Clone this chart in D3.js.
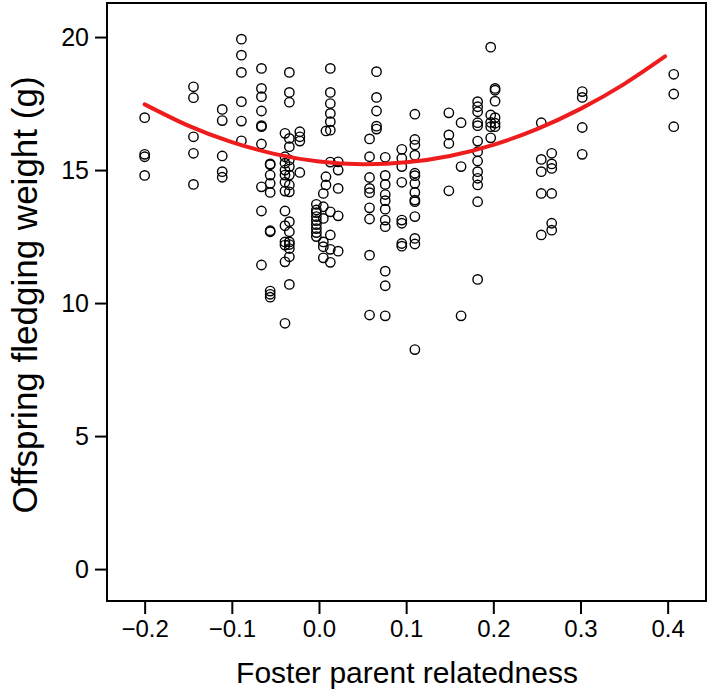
<!DOCTYPE html>
<html>
<head>
<meta charset="utf-8">
<script src="https://cdn.jsdelivr.net/npm/d3@7"></script>
<style>
  html, body { margin: 0; padding: 0; background: #fff; }
  svg { display: block; }
  text { font-family: "Liberation Sans", Arial, Helvetica, sans-serif; fill: #000; }
</style>
</head>
<body>
<svg id="chart" width="709" height="700"></svg>
<script>
// ---- data ----
const xTicks = [-0.2, -0.1, 0.0, 0.1, 0.2, 0.3, 0.4];
const xTickLabels = ["\u22120.2", "\u22120.1", "0.0", "0.1", "0.2", "0.3", "0.4"];
const yTicks = [0, 5, 10, 15, 20];
const yTickLabels = ["0", "5", "10", "15", "20"];
const xTitle = "Foster parent relatedness";
const yTitle = "Offspring fledging weight (g)";

// relatedness value of each column of points
const columnRelatedness = [-0.200, -0.144, -0.111, -0.089, -0.066, -0.056, -0.039, -0.034, -0.022,
  -0.003, 0.005, 0.008, 0.013, 0.022, 0.058, 0.066, 0.076, 0.095, 0.110, 0.149, 0.163, 0.182,
  0.197, 0.202, 0.255, 0.267, 0.302, 0.407];
// fledging weights (g) in each column
const columnWeights = [
  [16.97, 15.59, 15.50, 14.80],
  [18.13, 17.72, 16.25, 15.63, 14.46],
  [17.28, 16.86, 15.53, 14.94, 14.73],
  [19.92, 19.32, 18.67, 17.57, 16.84, 16.10],
  [18.82, 18.07, 17.76, 17.22, 16.67, 16.63, 15.98, 14.37, 13.46, 11.43],
  [15.23, 15.20, 14.81, 14.50, 14.16, 12.72, 12.68, 10.45, 10.33, 10.22],
  [16.38, 15.50, 15.26, 15.00, 14.81, 14.54, 14.21, 13.46, 12.91, 12.30, 12.18, 11.55, 9.24],
  [18.67, 17.92, 17.55, 16.19, 15.88, 15.38, 15.13, 14.81, 14.44, 14.18, 13.06, 12.68, 12.30, 12.20, 12.05, 11.74, 10.70],
  [16.44, 16.25, 16.09, 14.91],
  [13.71, 13.50, 13.40, 13.25, 13.10, 12.95, 12.80, 12.65, 12.50],
  [14.12, 13.62, 13.18, 12.30, 12.12, 11.70],
  [16.47, 14.75, 14.44],
  [18.82, 17.92, 17.50, 17.13, 16.82, 16.50, 15.30, 13.43, 12.56, 12.02, 11.53],
  [15.31, 15.00, 14.31, 13.28, 11.95],
  [16.17, 15.50, 14.72, 14.31, 14.15, 13.58, 13.16, 11.80, 9.55],
  [18.70, 17.73, 17.22, 16.65, 16.54],
  [15.48, 14.80, 14.46, 14.08, 13.85, 13.53, 13.12, 12.87, 11.20, 10.65, 9.52],
  [15.78, 15.44, 15.13, 14.54, 13.12, 13.00, 12.24, 12.14],
  [17.10, 16.15, 15.94, 15.56, 14.88, 14.79, 14.50, 14.16, 13.87, 13.81, 13.25, 12.43, 12.22, 8.25],
  [17.15, 16.32, 16.00, 14.22],
  [16.78, 15.13, 9.52],
  [17.57, 17.38, 17.19, 16.78, 16.67, 16.09, 15.69, 15.34, 14.94, 14.69, 14.44, 13.81, 10.89],
  [19.62, 17.07, 16.79, 16.63, 16.21],
  [18.07, 18.00, 17.59, 16.97, 16.76, 16.63],
  [16.78, 15.40, 14.94, 14.12, 12.56],
  [15.63, 15.23, 15.06, 14.12, 13.00, 12.74],
  [17.95, 17.73, 16.60, 15.59],
  [18.60, 17.86, 16.63]
];

// fitted curve (red), read at regular relatedness values
const fitRelatedness = [-0.2, -0.15, -0.1, -0.05, 0.0, 0.05, 0.1, 0.15, 0.2, 0.25, 0.3, 0.35, 0.397];
const fitWeight = [17.47, 16.67, 16.05, 15.60, 15.32, 15.22, 15.29, 15.53, 15.95, 16.54, 17.30, 18.23, 19.27];

// ---- layout ----
const box = { left: 107, right: 706, top: 3, bottom: 601 };
const xDomain = [-0.2432, 0.4440];
const yDomain = [-1.20, 21.28];

const svg = d3.select("#chart");
const x = d3.scaleLinear().domain(xDomain).range([box.left, box.right]);
const y = d3.scaleLinear().domain(yDomain).range([box.bottom, box.top]);

const points = [];
columnRelatedness.forEach((r, i) => columnWeights[i].forEach(w => points.push({ r, w })));

// axes
const xAxis = d3.axisBottom(x).tickValues(xTicks).tickSize(13).tickPadding(6)
  .tickFormat((d, i) => xTickLabels[i]);
const gx = svg.append("g").attr("transform", `translate(0,${box.bottom})`).call(xAxis);
gx.select(".domain").remove();
gx.selectAll(".tick line").attr("stroke", "#000").attr("stroke-width", 2);
gx.selectAll(".tick text").style("font-size", "24px").attr("fill", "#000");

const yAxis = d3.axisLeft(y).tickValues(yTicks).tickSize(12).tickPadding(6)
  .tickFormat((d, i) => yTickLabels[i]);
const gy = svg.append("g").attr("transform", `translate(${box.left},0)`).call(yAxis);
gy.select(".domain").remove();
gy.selectAll(".tick line").attr("stroke", "#000").attr("stroke-width", 2);
gy.selectAll(".tick text").style("font-size", "25px").attr("fill", "#000");

// frame
svg.append("rect")
  .attr("x", box.left).attr("y", box.top)
  .attr("width", box.right - box.left).attr("height", box.bottom - box.top)
  .attr("fill", "none").attr("stroke", "#000").attr("stroke-width", 2);

// points
svg.append("g").selectAll("circle").data(points).join("circle")
  .attr("cx", d => x(d.r)).attr("cy", d => y(d.w)).attr("r", 4.7)
  .attr("fill", "none").attr("stroke", "#000").attr("stroke-width", 1.4);

// fitted curve
const line = d3.line().x((d, i) => x(fitRelatedness[i])).y(d => y(d)).curve(d3.curveNatural);
svg.append("path").datum(fitWeight).attr("d", line)
  .attr("fill", "none").attr("stroke", "#ee1c1c").attr("stroke-width", 4).attr("stroke-linecap", "round");

// titles
svg.append("text").attr("x", 407).attr("y", 683)
  .attr("text-anchor", "middle").style("font-size", "30px").text(xTitle);
svg.append("text")
  .attr("transform", `translate(37,295) rotate(-90)`)
  .attr("text-anchor", "middle").style("font-size", "35px").text(yTitle);
</script>
</body>
</html>
